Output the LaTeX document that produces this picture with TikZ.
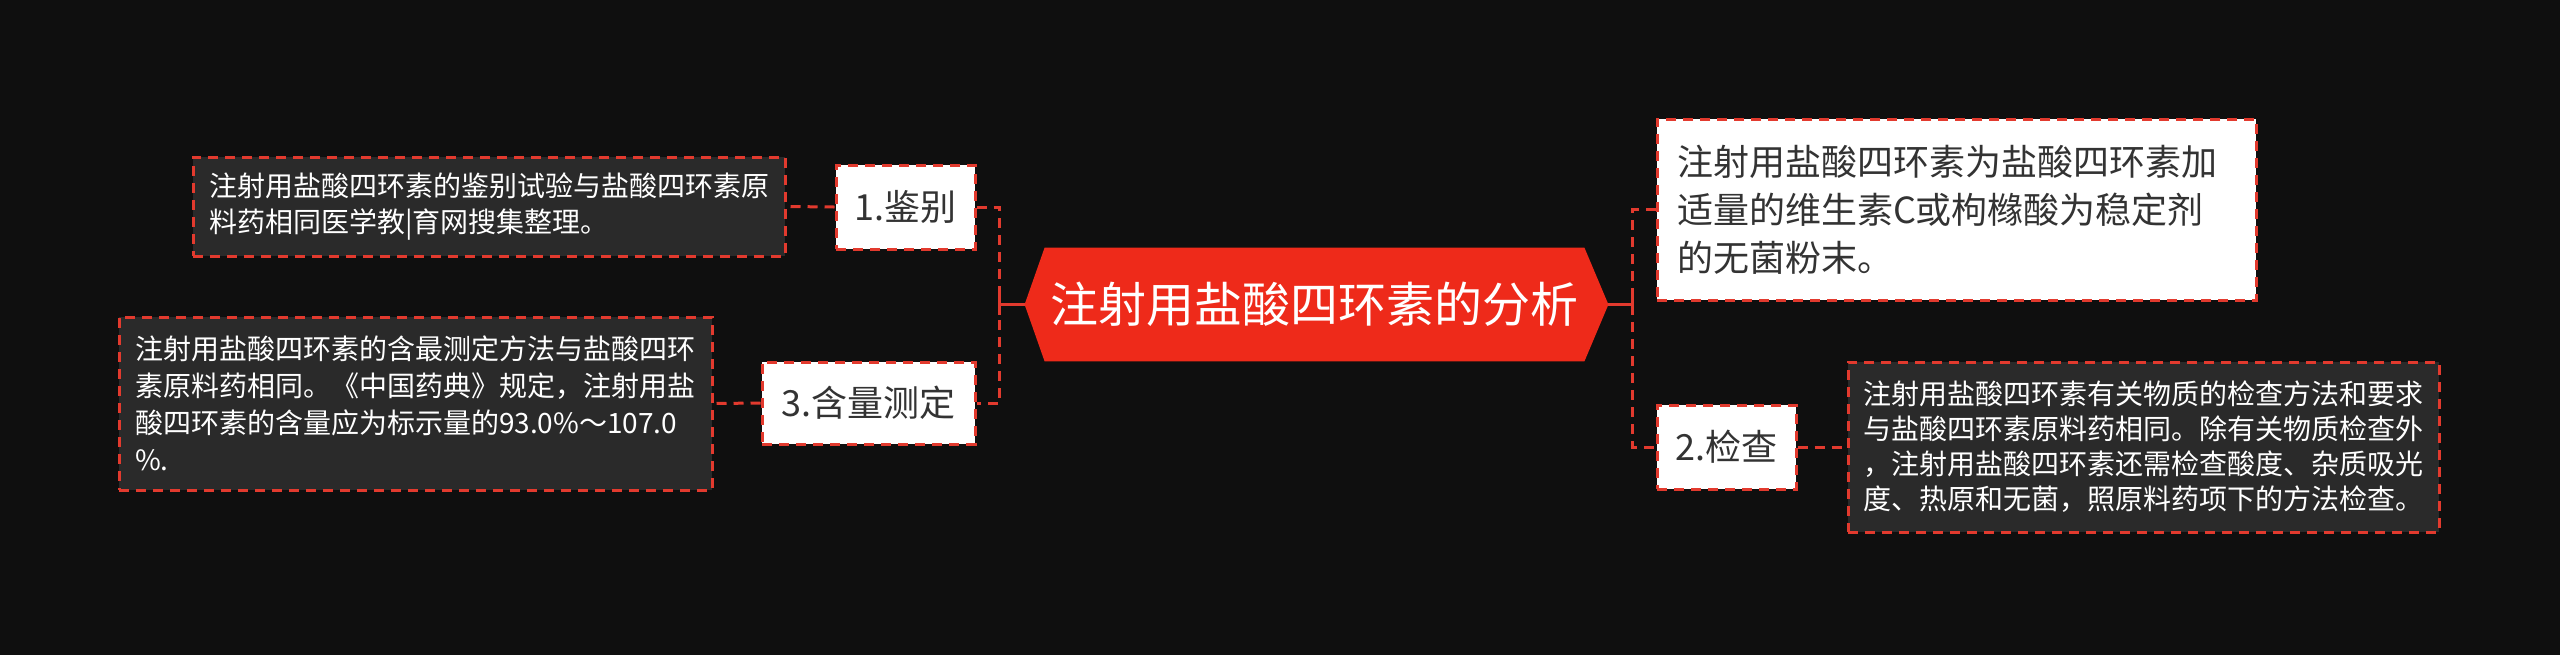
\documentclass[tikz,border=0pt]{standalone}
\usepackage{fontspec}
\setmainfont{Noto Sans CJK SC}
\usetikzlibrary{backgrounds}
\definecolor{bg}{HTML}{0F0F0F}
\definecolor{lred}{HTML}{E23A2E}
\definecolor{cred}{HTML}{EE2A1A}
\definecolor{dbox}{HTML}{2A2A2A}
\definecolor{dtext}{HTML}{333333}
\tikzset{
  link/.style={draw=lred, line width=1.5pt, dash pattern=on 5pt off 3.5pt},
  stem/.style={draw=lred, line width=1.5pt},
  darkbox/.style={draw=lred, line width=1.5pt, dash pattern=on 5pt off 3.5pt, fill=dbox, text=white, align=left, inner ysep=0pt},
  whitebox/.style={draw=lred, line width=1.5pt, dash pattern=on 5pt off 3.5pt, fill=white, text=dtext, align=left, inner ysep=0pt},
  childbox/.style={draw=lred, line width=1.5pt, dash pattern=on 5pt off 3.5pt, fill=white, text=dtext, inner sep=0pt, font=\fontsize{18pt}{22pt}\selectfont},
}
\begin{document}
\begin{tikzpicture}[x=0.5pt,y=-0.5pt]
\useasboundingbox (0,0) rectangle (2560,655);
% center
\node[rectangle, inner sep=0pt, minimum width=269.5pt, minimum height=56.5pt, text=white, font=\fontsize{24pt}{28pt}\selectfont] (c) at (1314.5,304.5) {注射用盐酸四环素的分析};
\coordinate (cl) at ([xshift=-10pt]c.west);
\coordinate (cr) at ([xshift=12pt]c.east);
\begin{scope}[on background layer]
  \fill[bg] (0,0) rectangle (2560,655);
  \fill[cred] (c.north west) -- (c.north east) -- (cr) -- (c.south east) -- (c.south west) -- (cl) -- cycle;
\end{scope}
% children
\node[childbox, minimum width=69.5pt, minimum height=42pt] (n1) at (905.5,207) {1.鉴别};
\node[childbox, minimum width=106.5pt, minimum height=41pt] (n3) at (868.5,403) {3.含量测定};
\node[childbox, minimum width=69.5pt, minimum height=42pt] (n2) at (1726.5,447) {2.检查};
% leaves
\node[darkbox, text width=280pt, inner xsep=8pt, minimum height=49.5pt, font=\fontsize{14pt}{18pt}\selectfont] (l1) at (489,206.5) {注射用盐酸四环素的鉴别试验与盐酸四环素原\\料药相同医学教|育网搜集整理。};
\node[darkbox, text width=280.5pt, inner xsep=8pt, minimum height=86.5pt, font=\fontsize{14pt}{18.5pt}\selectfont] (l3) at (415.5,403.5) {注射用盐酸四环素的含最测定方法与盐酸四环\\素原料药相同。《中国药典》规定，注射用盐\\酸四环素的含量应为标示量的93.0\%～107.0\\\%.};
\node[whitebox, text width=279.5pt, inner xsep=10pt, minimum height=90.5pt, font=\fontsize{18pt}{24pt}\selectfont] (r1) at (1956.5,209.5) {注射用盐酸四环素为盐酸四环素加\\适量的维生素C或枸橼酸为稳定剂\\的无菌粉末。};
\node[darkbox, text width=280.5pt, inner xsep=7.5pt, minimum height=85pt, font=\fontsize{14pt}{17.5pt}\selectfont] (r2) at (2143.5,447) {注射用盐酸四环素有关物质的检查方法和要求\\与盐酸四环素原料药相同。除有关物质检查外\\，注射用盐酸四环素还需检查酸度、杂质吸光\\度、热原和无菌，照原料药项下的方法检查。};
% junctions
\coordinate (jl) at ([xshift=-12.5pt]cl);
\coordinate (jr) at ([xshift=12pt]cr);
\draw[stem] (cl) -- (jl);
\draw[stem] ([yshift=5pt]jl) -- ([yshift=-5pt]jl);
\draw[stem] (cr) -- (jr);
\draw[stem] ([yshift=5pt]jr) -- ([yshift=-5pt]jr);
\draw[link] (n1.east) -| (jl) |- (n3.east);
\draw[link] (r1.west) -| (jr) |- (n2.west);
\draw[link] (n1.west) -- (l1.east);
\draw[link] (n3.west) -- (l3.east);
\draw[link] (n2.east) -- (r2.west);
\end{tikzpicture}
\end{document}
